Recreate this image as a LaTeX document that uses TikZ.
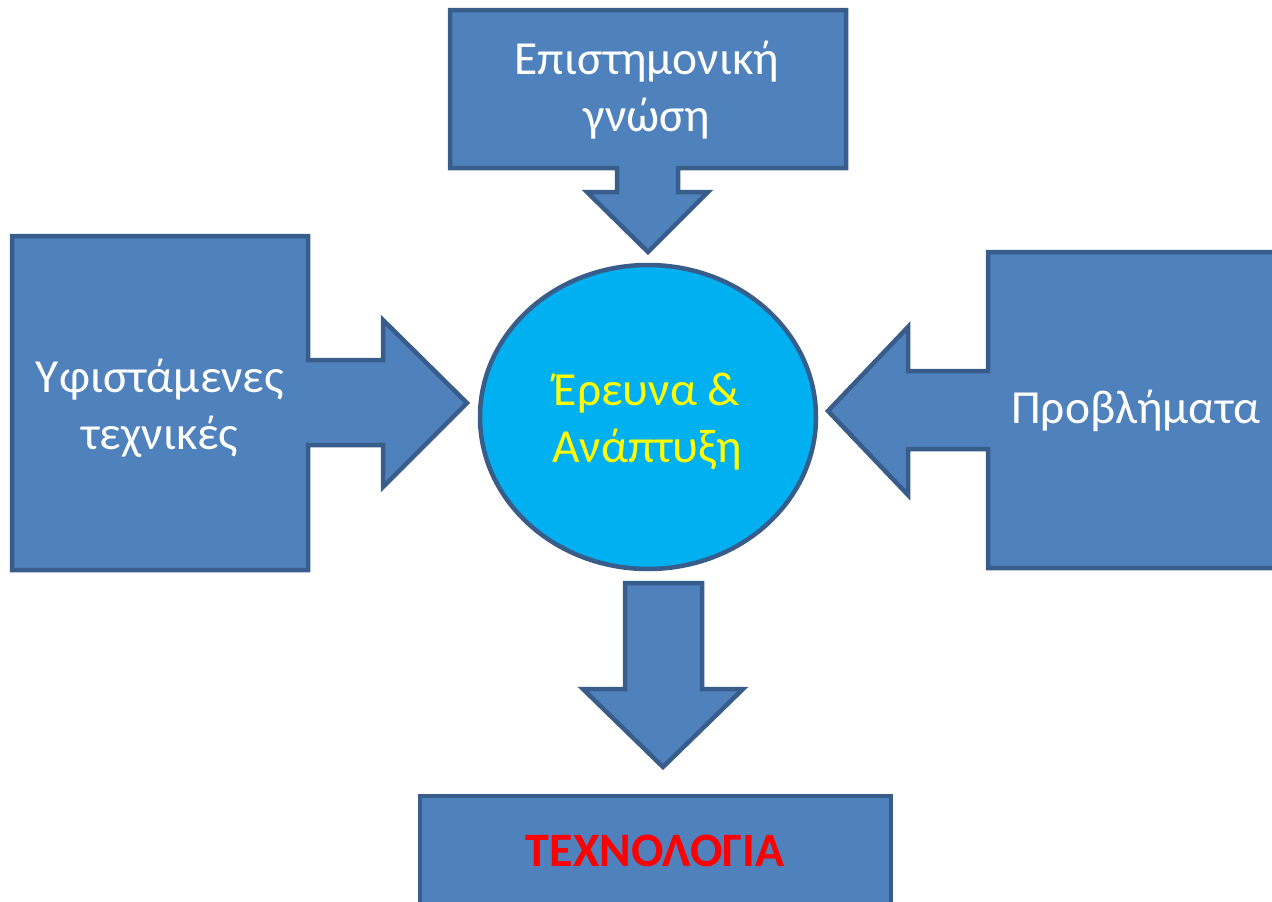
\documentclass[tikz,border=0pt]{standalone}
\usepackage{fontspec}
\usetikzlibrary{shapes.geometric}
\setmainfont{Carlito}
\definecolor{boxblue}{HTML}{4F81BD}
\definecolor{boxedge}{HTML}{385D8A}
\definecolor{circblue}{HTML}{00B0F0}
\definecolor{txtyellow}{HTML}{FFFF00}
\definecolor{txtred}{HTML}{FF0000}
\tikzset{
  shp/.style={fill=boxblue, draw=boxedge, line width=4.5pt},
  lbl/.style={text=white, align=center, font=\fontsize{47.5}{57}\selectfont, inner sep=0pt},
}
\begin{document}
\begin{tikzpicture}[x=1pt,y=-1pt]
\useasboundingbox (0,0) rectangle (1272,902);
% top callout
\draw[shp] (450,10) -- (846,10) -- (846,168) -- (678,168) -- (678,192) -- (708,192) -- (648,252) -- (587,192) -- (617,192) -- (617,168) -- (450,168) -- cycle;
% left callout
\draw[shp] (12,236) -- (308,236) -- (308,360) -- (383,360) -- (383,320) -- (467,403) -- (383,487) -- (383,445) -- (308,445) -- (308,570) -- (12,570) -- cycle;
% right callout
\draw[shp] (1290,252) -- (988,252) -- (988,371) -- (908,371) -- (908,327) -- (828,411) -- (908,495) -- (908,449) -- (988,449) -- (988,568) -- (1290,568) -- cycle;
% bottom arrow
\draw[shp] (625,583) -- (702,583) -- (702,689) -- (743,689) -- (663,767) -- (583,689) -- (625,689) -- cycle;
% bottom box
\draw[shp] (420,796) rectangle (891,915);
% ellipse
\node[ellipse, draw=boxedge, fill=circblue, line width=4.5pt, minimum width=336pt, minimum height=304pt, inner sep=0pt] (rd) at (648,417) {};
\node[lbl, text=txtyellow] (rdt) at (647,422) {Έρευνα \&\\Ανάπτυξη};
\node[lbl] (ep) at (647,90) {Επιστημονική\\γνώση};
\node[lbl] (yf) at (160,408) {Υφιστάμενες\\τεχνικές};
\node[lbl] (pr) at (1136,411) {Προβλήματα};
\node[lbl, text=txtred, font=\fontsize{48}{57}\bfseries] (tech) at (655,851) {ΤΕΧΝΟΛΟΓΙΑ};
\end{tikzpicture}
\end{document}
